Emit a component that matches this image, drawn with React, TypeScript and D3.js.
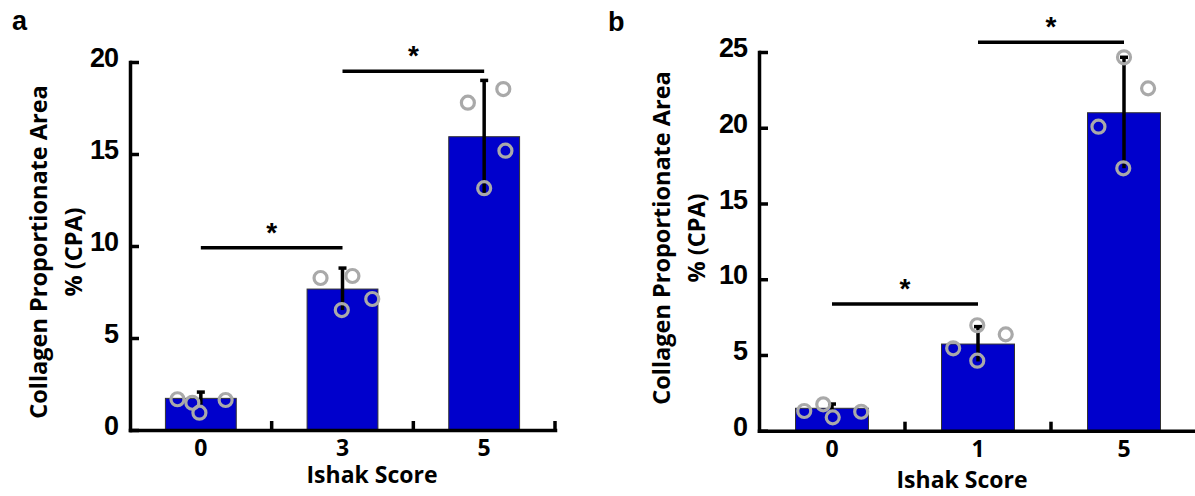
import React, { useRef, useEffect } from "react";
import * as d3 from "d3";

// panel a
const groupsA = ["0", "3", "5"];
const meansA = [1.72, 7.66, 15.94];
const sdA = [0.34, 1.14, 3.06];
const pointsA = [
  [1.67, 1.48, 0.94, 1.63],
  [8.26, 8.37, 6.52, 7.12],
  [17.79, 18.53, 15.18, 13.14],
];
// horizontal jitter of each point, as a fraction of the bar width
const jitterA = [
  [-0.33, -0.12, -0.02, 0.35],
  [-0.31, 0.14, -0.01, 0.42],
  [-0.23, 0.27, 0.3, 0.0],
];
const yTicksA = [0, 5, 10, 15, 20];
const sigA = [
  [0, 1, 9.9],
  [1, 2, 19.5],
];

// panel b
const groupsB = ["0", "1", "5"];
const meansB = [1.48, 5.72, 20.99];
const sdB = [0.28, 1.15, 3.66];
const pointsB = [
  [1.3, 1.74, 0.88, 1.25],
  [5.44, 6.96, 6.36, 4.62],
  [24.65, 22.6, 20.07, 17.32],
];
const jitterB = [
  [-0.38, -0.12, 0.01, 0.4],
  [-0.34, -0.01, 0.38, -0.01],
  [0.0, 0.33, -0.35, -0.01],
];
const yTicksB = [0, 5, 10, 15, 20, 25];
const sigB = [
  [0, 1, 8.36],
  [1, 2, 25.64],
];

const xTitle = "Ishak Score";
const yTitle1 = "Collagen Proportionate Area";
const yTitle2 = "% (CPA)";

const BLUE = "#0000cc";
const GREY = "#a9a9a9";
const SANS = "'Open Sans', 'Noto Sans', sans-serif";
const ARIAL = "'Liberation Sans', Arial, sans-serif";

const panels = [
  {
    letter: "a", letterX: 12, letterY: 30,
    groups: groupsA, means: meansA, sd: sdA, points: pointsA, jitter: jitterA,
    yTicks: yTicksA, yMax: 20, sig: sigA,
    x0: 130, x1: 555, y0: 430, y1: 62,
    titleX: 372, titleY: 483,
    yTitleX1: 47, yTitleX2: 82, yTitleY: 252,
  },
  {
    letter: "b", letterX: 608, letterY: 31,
    groups: groupsB, means: meansB, sd: sdB, points: pointsB, jitter: jitterB,
    yTicks: yTicksB, yMax: 25, sig: sigB,
    x0: 759, x1: 1197, y0: 430.7, y1: 52,
    titleX: 962, titleY: 488,
    yTitleX1: 670, yTitleX2: 705, yTitleY: 238,
  },
];

function drawPanel(g, p) {
  const x = d3
    .scaleBand()
    .domain(p.groups)
    .range([p.x0, p.x1])
    .paddingInner(0.5)
    .paddingOuter(0.25);
  const y = d3.scaleLinear().domain([0, p.yMax]).range([p.y0, p.y1]);
  const bw = x.bandwidth();
  const cx = (i) => x(p.groups[i]) + bw / 2;

  // bars
  g.append("g")
    .selectAll("rect")
    .data(p.means)
    .join("rect")
    .attr("x", (d, i) => x(p.groups[i]))
    .attr("y", (d) => y(d))
    .attr("width", bw)
    .attr("height", (d) => y(0) - y(d))
    .attr("fill", BLUE)
    .attr("stroke", "#333")
    .attr("stroke-width", 1);

  // error bars (mean ± sd, cap on top)
  const err = g.append("g").attr("stroke", "#000").attr("stroke-width", 3.5);
  p.means.forEach((m, i) => {
    err.append("line")
      .attr("x1", cx(i)).attr("x2", cx(i))
      .attr("y1", y(m - p.sd[i])).attr("y2", y(m + p.sd[i]));
    err.append("line")
      .attr("x1", cx(i) - 4).attr("x2", cx(i) + 4)
      .attr("y1", y(m + p.sd[i])).attr("y2", y(m + p.sd[i]));
  });

  // individual points
  g.append("g")
    .selectAll("g")
    .data(p.points)
    .join("g")
    .each(function (vals, i) {
      d3.select(this)
        .selectAll("circle")
        .data(vals)
        .join("circle")
        .attr("cx", (d, j) => cx(i) + p.jitter[i][j] * bw)
        .attr("cy", (d) => y(d))
        .attr("r", 6.5)
        .attr("fill", "none")
        .attr("stroke", GREY)
        .attr("stroke-width", 3.2);
    });

  // y axis
  g.append("g")
    .attr("transform", `translate(${p.x0},0)`)
    .call(
      d3.axisLeft(y).tickValues(p.yTicks).tickSizeInner(-9).tickSizeOuter(0).tickPadding(12)
    )
    .call((s) => {
      s.attr("font-family", ARIAL).attr("font-size", 27).attr("font-weight", "bold");
      s.select(".domain").attr("stroke-width", 3.5).attr("stroke-linecap", "square");
      s.selectAll(".tick line").attr("stroke-width", 3.5);
      s.selectAll(".tick text").attr("fill", "#000").attr("dy", "0.17em").attr("letter-spacing", -1);
    });

  // x axis
  g.append("g")
    .attr("transform", `translate(0,${p.y0})`)
    .call(d3.axisBottom(x).tickSize(0))
    .call((s) => {
      s.attr("font-family", SANS).attr("font-size", 23).attr("font-weight", "bold");
      s.select(".domain").attr("stroke-width", 3.5).attr("stroke-linecap", "square");
      s.selectAll(".tick text").attr("fill", "#000").attr("y", 26).attr("dy", 0);
    });

  // inner ticks between groups on the x axis
  g.append("g")
    .selectAll("line")
    .data(d3.range(1, p.groups.length + 1))
    .join("line")
    .attr("x1", (i) => p.x0 + i * x.step())
    .attr("x2", (i) => p.x0 + i * x.step())
    .attr("y1", p.y0)
    .attr("y2", p.y0 - 9)
    .attr("stroke", "#000")
    .attr("stroke-width", 3.5);

  // significance brackets
  const sig = g.append("g");
  p.sig.forEach(([a, b, v]) => {
    sig.append("line")
      .attr("x1", cx(a)).attr("x2", cx(b))
      .attr("y1", y(v)).attr("y2", y(v))
      .attr("stroke", "#000").attr("stroke-width", 3.5);
    sig.append("text")
      .attr("x", (cx(a) + cx(b)) / 2)
      .attr("y", y(v) - 6)
      .attr("text-anchor", "middle")
      .attr("font-family", ARIAL)
      .attr("font-weight", "bold")
      .attr("font-size", 28)
      .text("*");
  });

  // titles
  g.append("text")
    .attr("x", p.titleX)
    .attr("y", p.titleY)
    .attr("text-anchor", "middle")
    .attr("font-family", SANS)
    .attr("font-weight", "bold")
    .attr("font-size", 23)
    .text(xTitle);

  [
    [p.yTitleX1, yTitle1],
    [p.yTitleX2, yTitle2],
  ].forEach(([tx, t]) => {
    g.append("text")
      .attr("transform", `translate(${tx},${p.yTitleY}) rotate(-90)`)
      .attr("text-anchor", "middle")
      .attr("font-family", SANS)
      .attr("font-weight", "bold")
      .attr("font-size", 23.5)
      .text(t);
  });

  g.append("text")
    .attr("x", p.letterX)
    .attr("y", p.letterY)
    .attr("font-family", ARIAL)
    .attr("font-weight", "bold")
    .attr("font-size", 27)
    .text(p.letter);
}

const App = () => {
  const svgRef = useRef(null);

  useEffect(() => {
    const width = 1195;
    const height = 496;
    const svg = d3.select(svgRef.current);
    svg.selectAll("*").remove();
    svg.attr("width", width).attr("height", height).attr("viewBox", [0, 0, width, height]);
    svg.append("rect").attr("width", width).attr("height", height).attr("fill", "#fff");
    panels.forEach((p) => drawPanel(svg.append("g"), p));
  }, []);

  return (
    <svg
      ref={svgRef}
      style={{ position: "absolute", left: 0, top: 0, display: "block" }}
    ></svg>
  );
};

export default App;
